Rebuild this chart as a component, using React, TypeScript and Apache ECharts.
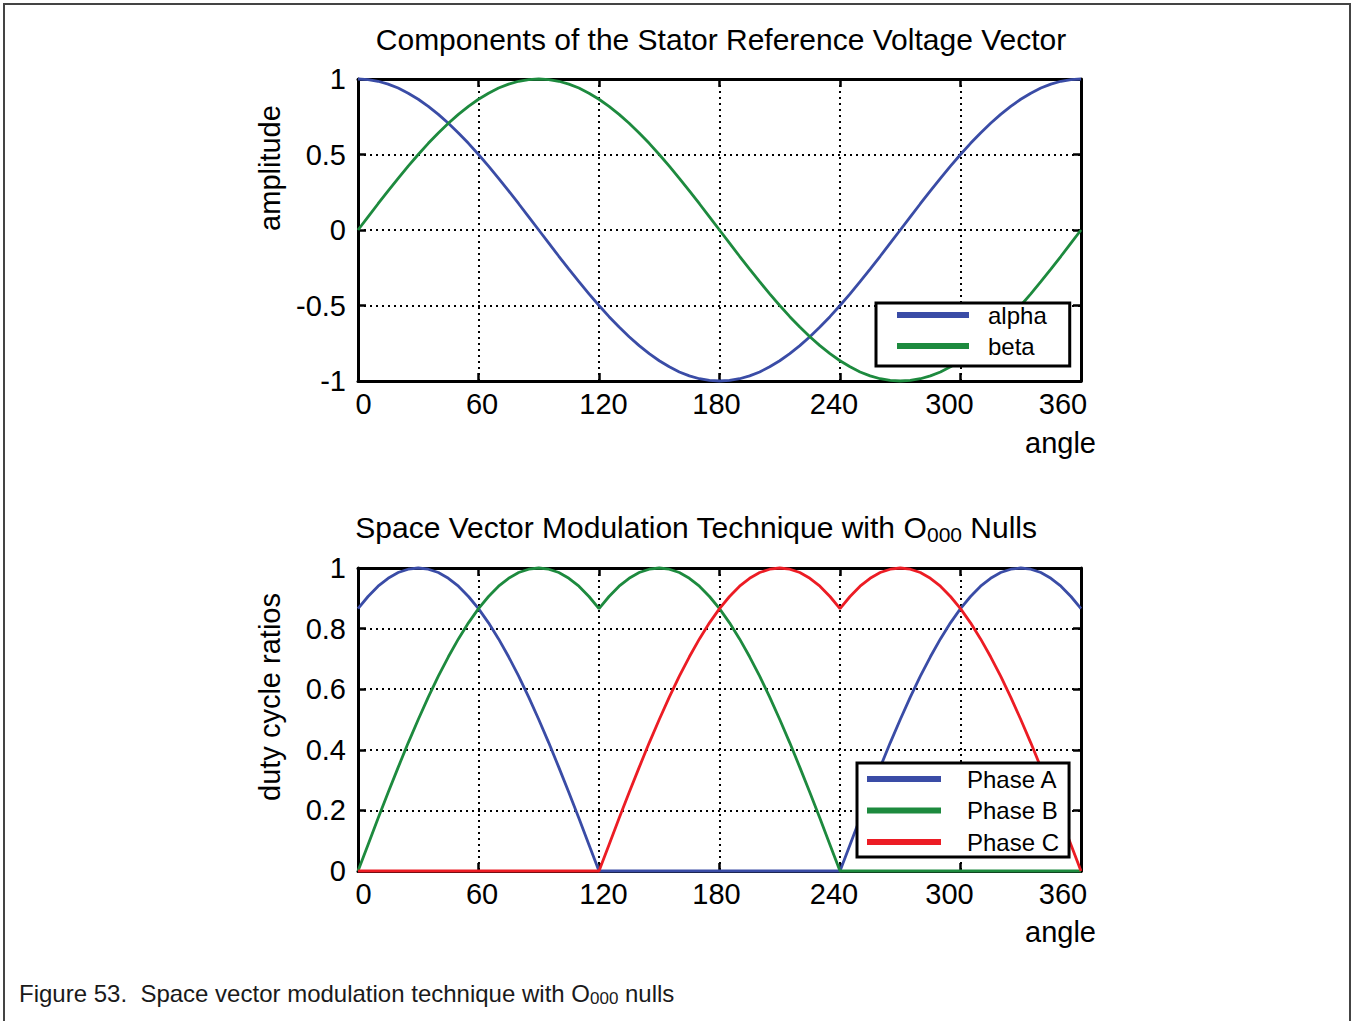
import React, { useEffect, useRef } from "react";
import * as echarts from "echarts";

// ---------- data (every 5 degrees) ----------
const angles = [
  0, 5, 10, 15, 20, 25, 30, 35, 40, 45, 50, 55, 60, 65, 70, 75, 80, 85, 90,
  95, 100, 105, 110, 115, 120, 125, 130, 135, 140, 145, 150, 155, 160, 165, 170, 175, 180,
  185, 190, 195, 200, 205, 210, 215, 220, 225, 230, 235, 240, 245, 250, 255, 260, 265, 270,
  275, 280, 285, 290, 295, 300, 305, 310, 315, 320, 325, 330, 335, 340, 345, 350, 355, 360,
];

const alpha = [
  1, 0.996, 0.985, 0.966, 0.94, 0.906, 0.866, 0.819, 0.766, 0.707, 0.643, 0.574, 0.5, 0.423, 0.342, 0.259, 0.174, 0.087, 0,
  -0.087, -0.174, -0.259, -0.342, -0.423, -0.5, -0.574, -0.643, -0.707, -0.766, -0.819, -0.866, -0.906, -0.94, -0.966, -0.985, -0.996, -1,
  -0.996, -0.985, -0.966, -0.94, -0.906, -0.866, -0.819, -0.766, -0.707, -0.643, -0.574, -0.5, -0.423, -0.342, -0.259, -0.174, -0.087, 0,
  0.087, 0.174, 0.259, 0.342, 0.423, 0.5, 0.574, 0.643, 0.707, 0.766, 0.819, 0.866, 0.906, 0.94, 0.966, 0.985, 0.996, 1,
];
const beta = [
  0, 0.087, 0.174, 0.259, 0.342, 0.423, 0.5, 0.574, 0.643, 0.707, 0.766, 0.819, 0.866, 0.906, 0.94, 0.966, 0.985, 0.996, 1,
  0.996, 0.985, 0.966, 0.94, 0.906, 0.866, 0.819, 0.766, 0.707, 0.643, 0.574, 0.5, 0.423, 0.342, 0.259, 0.174, 0.087, 0,
  -0.087, -0.174, -0.259, -0.342, -0.423, -0.5, -0.574, -0.643, -0.707, -0.766, -0.819, -0.866, -0.906, -0.94, -0.966, -0.985, -0.996, -1,
  -0.996, -0.985, -0.966, -0.94, -0.906, -0.866, -0.819, -0.766, -0.707, -0.643, -0.574, -0.5, -0.423, -0.342, -0.259, -0.174, -0.087, 0,
];

const phaseA = [
  0.866, 0.906, 0.94, 0.966, 0.985, 0.996, 1, 0.996, 0.985, 0.966, 0.94, 0.906, 0.866, 0.819, 0.766, 0.707, 0.643, 0.574, 0.5,
  0.423, 0.342, 0.259, 0.174, 0.087, 0, 0, 0, 0, 0, 0, 0, 0, 0, 0, 0, 0, 0,
  0, 0, 0, 0, 0, 0, 0, 0, 0, 0, 0, 0, 0.087, 0.174, 0.259, 0.342, 0.423, 0.5,
  0.574, 0.643, 0.707, 0.766, 0.819, 0.866, 0.906, 0.94, 0.966, 0.985, 0.996, 1, 0.996, 0.985, 0.966, 0.94, 0.906, 0.866,
];
const phaseB = [
  0, 0.087, 0.174, 0.259, 0.342, 0.423, 0.5, 0.574, 0.643, 0.707, 0.766, 0.819, 0.866, 0.906, 0.94, 0.966, 0.985, 0.996, 1,
  0.996, 0.985, 0.966, 0.94, 0.906, 0.866, 0.906, 0.94, 0.966, 0.985, 0.996, 1, 0.996, 0.985, 0.966, 0.94, 0.906, 0.866,
  0.819, 0.766, 0.707, 0.643, 0.574, 0.5, 0.423, 0.342, 0.259, 0.174, 0.087, 0, 0, 0, 0, 0, 0, 0,
  0, 0, 0, 0, 0, 0, 0, 0, 0, 0, 0, 0, 0, 0, 0, 0, 0, 0,
];
const phaseC = [
  0, 0, 0, 0, 0, 0, 0, 0, 0, 0, 0, 0, 0, 0, 0, 0, 0, 0, 0,
  0, 0, 0, 0, 0, 0, 0.087, 0.174, 0.259, 0.342, 0.423, 0.5, 0.574, 0.643, 0.707, 0.766, 0.819, 0.866,
  0.906, 0.94, 0.966, 0.985, 0.996, 1, 0.996, 0.985, 0.966, 0.94, 0.906, 0.866, 0.906, 0.94, 0.966, 0.985, 0.996, 1,
  0.996, 0.985, 0.966, 0.94, 0.906, 0.866, 0.819, 0.766, 0.707, 0.643, 0.574, 0.5, 0.423, 0.342, 0.259, 0.174, 0.087, 0,
];

const xTickLabels = [0, 60, 120, 180, 240, 300, 360];

const title1 = "Components of the Stator Reference Voltage Vector";
const title2Main = "Space Vector Modulation Technique with O";
const title2Sub = "000";
const title2End = " Nulls";
const captionMain = "Figure 53.  Space vector modulation technique with O";
const captionSub = "000";
const captionEnd = " nulls";
const xName = "angle";

// ---------- styling ----------
const FONT = "Liberation Sans, Arial, Helvetica, sans-serif";
const BLUE = "#3a4ca6";
const GREEN = "#1d8a3e";
const RED = "#ec1c24";

// per-label horizontal nudges of the x tick labels (MATLAB-like placement)
const xLabelPad: Record<number, number[]> = {
  0: [0, 0, 0, 11],
  60: [0, 0, 0, 7],
  120: [0, 0, 0, 9],
  180: [0, 6, 0, 0],
  240: [0, 12, 0, 0],
  300: [0, 22, 0, 0],
  360: [0, 36, 0, 0],
};

function xRich() {
  const r: Record<string, any> = {};
  xTickLabels.forEach((v) => {
    r["t" + v] = { fontSize: 29, fontFamily: FONT, color: "#000", padding: xLabelPad[v] };
  });
  return r;
}

const pairs = (ys: number[]) => angles.map((a, i) => [a, ys[i]]);

export default function App() {
  const ref = useRef<HTMLDivElement>(null);

  useEffect(() => {
    if (!ref.current) return;
    const chart = echarts.init(ref.current, undefined, { renderer: "svg" });

    const grids = [
      { left: 358, top: 79, width: 723, height: 302 },
      { left: 358, top: 568, width: 723, height: 303 },
    ];

    const axisLine = { show: true, onZero: false, lineStyle: { color: "#000", width: 3 } };
    const axisTick = { show: true, inside: true, length: 8, lineStyle: { color: "#000", width: 2.5 } };
    const splitLine = { show: true, lineStyle: { color: "#000", width: 2, type: [2, 4] } };

    const mainX = (gridIndex: number) => ({
      type: "value",
      gridIndex,
      min: 0,
      max: 360,
      interval: 60,
      position: "bottom",
      axisLine,
      axisTick,
      splitLine,
      axisLabel: {
        margin: 8,
        formatter: (v: number) => `{t${v}|${v}}`,
        rich: xRich(),
        fontSize: 29,
        fontFamily: FONT,
        color: "#000",
      },
    });
    const topX = (gridIndex: number) => ({
      type: "value",
      gridIndex,
      min: 0,
      max: 360,
      interval: 60,
      position: "top",
      axisLine,
      axisTick,
      splitLine: { show: false },
      axisLabel: { show: false },
    });
    const mainY = (gridIndex: number, min: number, max: number, interval: number, name: string, namePad: number) => ({
      type: "value",
      gridIndex,
      min,
      max,
      interval,
      position: "left",
      axisLine,
      axisTick,
      splitLine,
      axisLabel: { margin: 12, fontSize: 29, fontFamily: FONT, color: "#000" },
      name,
      nameLocation: "middle",
      nameGap: 74,
      nameTextStyle: { fontSize: 29, fontFamily: FONT, color: "#000", padding: [0, 0, 0, namePad] },
    });
    const rightY = (gridIndex: number, min: number, max: number, interval: number) => ({
      type: "value",
      gridIndex,
      min,
      max,
      interval,
      position: "right",
      axisLine,
      axisTick,
      splitLine: { show: false },
      axisLabel: { show: false },
    });

    const line = (name: string, color: string, data: number[], xi: number, yi: number) => ({
      type: "line",
      name,
      xAxisIndex: xi,
      yAxisIndex: yi,
      data: pairs(data),
      showSymbol: false,
      clip: false,
      color,
      lineStyle: { color, width: 2.8 },
      emphasis: { disabled: true },
    });

    const legendBase = {
      orient: "vertical",
      icon: "rect",
      itemHeight: 6,
      backgroundColor: "#fff",
      borderColor: "#000",
      borderWidth: 3,
      borderRadius: 0,
      selectedMode: false,
    };

    const angleText = (y: number) => ({
      type: "text",
      x: 1096,
      y,
      silent: true,
      style: {
        text: xName,
        fontSize: 29,
        fontFamily: FONT,
        fill: "#000",
        align: "right",
        verticalAlign: "middle",
      },
    });

    chart.setOption({
      animation: false,
      backgroundColor: "#fff",
      title: [
        {
          text: title1,
          left: 716,
          top: 19,
          textAlign: "center",
          textStyle: { fontSize: 30, fontFamily: FONT, fontWeight: "normal", color: "#000" },
        },
        {
          text: `{m|${title2Main}}{s|${title2Sub}}{m|${title2End}}`,
          left: 691,
          top: 504,
          textAlign: "center",
          textStyle: {
            fontWeight: "normal",
            rich: {
              m: { fontSize: 30, fontFamily: FONT, fontWeight: "normal", color: "#000", lineHeight: 36 },
              s: { fontSize: 21, fontFamily: FONT, fontWeight: "normal", color: "#000", lineHeight: 36, padding: [14, 0, 0, 0] },
            },
          },
        },
        {
          text: `{m|${captionMain}}{s|${captionSub}}{m|${captionEnd}}`,
          left: 14,
          top: 973,
          textStyle: {
            fontWeight: "normal",
            rich: {
              m: { fontSize: 24, fontFamily: FONT, fontWeight: "normal", color: "#1a1a1a", lineHeight: 30 },
              s: { fontSize: 17, fontFamily: FONT, fontWeight: "normal", color: "#1a1a1a", lineHeight: 30, padding: [10, 0, 0, 0] },
            },
          },
        },
      ],
      grid: grids,
      xAxis: [mainX(0), topX(0), mainX(1), topX(1)],
      yAxis: [
        mainY(0, -1, 1, 0.5, "amplitude", 124),
        rightY(0, -1, 1, 0.5),
        mainY(1, 0, 1, 0.2, "duty cycle ratios", 45),
        rightY(1, 0, 1, 0.2),
      ],
      legend: [
        {
          ...legendBase,
          data: ["alpha", "beta"],
          left: 876,
          top: 303,
          itemWidth: 72,
          itemGap: 7,
          padding: [0, 23, 8, 21],
          textStyle: { fontSize: 24, fontFamily: FONT, color: "#000", padding: [0, 0, 0, 14] },
        },
        {
          ...legendBase,
          data: ["Phase A", "Phase B", "Phase C"],
          left: 857,
          top: 763,
          itemWidth: 74,
          itemGap: 7.5,
          padding: [4, 10, 3, 10],
          textStyle: { fontSize: 24, fontFamily: FONT, color: "#000", padding: [0, 0, 0, 21] },
        },
      ],
      graphic: [
        {
          type: "polyline",
          shape: { points: [[4, 1021], [4, 4], [1350, 4], [1350, 1021]] },
          style: { stroke: "#444", lineWidth: 2, fill: null },
          silent: true,
        },
        angleText(443),
        angleText(932),
      ],
      series: [
        line("alpha", BLUE, alpha, 0, 0),
        line("beta", GREEN, beta, 0, 0),
        line("Phase A", BLUE, phaseA, 2, 2),
        line("Phase B", GREEN, phaseB, 2, 2),
        line("Phase C", RED, phaseC, 2, 2),
      ],
    });

    return () => chart.dispose();
  }, []);

  return (
    <div
      ref={ref}
      style={{ position: "absolute", left: 0, top: 0, width: 1352, height: 1021, background: "#fff" }}
    />
  );
}
